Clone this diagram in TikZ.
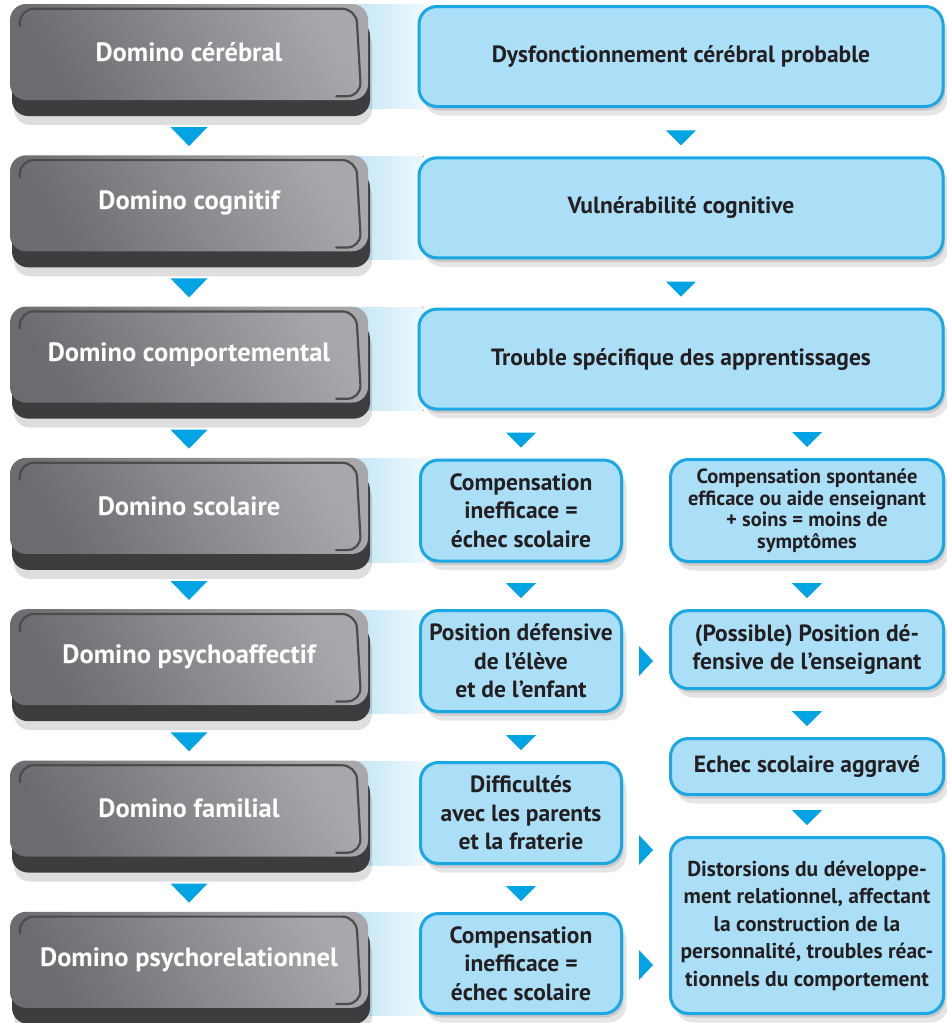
\documentclass[tikz,border=0pt]{standalone}
\usepackage{fontspec}
\setmainfont{PT Sans}
\usetikzlibrary{calc,shadows,backgrounds}

\definecolor{slab}{HTML}{3D3D40}
\definecolor{facedark}{HTML}{6C6C70}
\definecolor{facelight}{HTML}{A8A8AC}
\definecolor{boxfill}{HTML}{ABDFF8}
\definecolor{boxline}{HTML}{1AA7E3}
\definecolor{arrowblue}{HTML}{00A3E4}
\definecolor{inktext}{HTML}{231F20}
\definecolor{bandleft}{HTML}{BCE3F5}
\definecolor{bandright}{HTML}{EEF8FD}

\tikzset{
  domino/.style={rounded corners=16pt, minimum width=358pt, minimum height=96pt, inner sep=0pt,
    general shadow={fill=black, opacity=.13, shadow yshift=-25pt, shadow xshift=4pt},
    general shadow={fill=slab, shadow yshift=-16pt, shadow xshift=2pt},
    bottom color=facedark, top color=facelight, shading angle=-60,
    text=white, font=\fontsize{26.5}{30}\selectfont\bfseries},
  groove/.style={draw=black!70, line width=2.2pt, rounded corners=14pt, line cap=round},
  note/.style={rounded corners=18pt, draw=boxline, line width=3pt, fill=boxfill, inner sep=0pt,
    align=center, text=inktext, font=\fontsize{23.5}{28.5}\selectfont\bfseries,
    general shadow={fill=black, opacity=.10, shadow xshift=5pt, shadow yshift=-9pt},
    general shadow={fill=black, opacity=.12, shadow xshift=2pt, shadow yshift=-4pt}},
  wide/.style={note, minimum width=524pt, minimum height=100pt},
  half/.style={note, minimum width=201pt, minimum height=101pt},
  side/.style={note, minimum width=273pt},
  band/.style={left color=bandleft, right color=bandright},
  fall/.style 2 args={to path={($(\tikztotarget.north)+(0,-18.5)$) ++(-#1/2,-#2/2) -- ++(#1,0) -- ++(-#1/2,#2) -- cycle}},
  bigfall/.style={fall={37}{19}},
  smallfall/.style={fall={30}{15}},
  push/.style={to path={let \p1=(\tikztostart), \p2=(\tikztotarget.west) in ({(\x1+\x2)/2},\y1) ++(-7,-15) -- ++(14,15) -- ++(-14,15) -- cycle}}
}

\begin{document}
\begin{tikzpicture}[x=1pt, y=-1pt]
\useasboundingbox (0,0) rectangle (946,1023);

% dominoes
\node[domino] (cerebral)  at (189,52)    {Domino cérébral};
\node[domino] (cognitif)  at (189,203.3) {Domino cognitif};
\node[domino] (comport)   at (189,354.6) {Domino comportemental};
\node[domino] (scolaire)  at (189,505.9) {Domino scolaire};
\node[domino] (psychoaff) at (189,657.2) {Domino psychoaffectif};
\node[domino] (familial)  at (189,808.5) {Domino familial};
\node[domino] (psychorel) at (189,959.8) {Domino psychorelationnel};

\foreach \d in {cerebral,cognitif,comport,scolaire,psychoaff,familial,psychorel}
  \draw[groove] ($(\d.north west)+(10,22)$) |- ($(\d.north east)+(-12,5)$)
    -- ($(\d.south east)+(-7,-4)$) -- ($(\d.south east)+(-32,-4)$);

% boxes
\node[wide] (dysf)    at (681,56.5)  {Dysfonctionnement cérébral probable};
\node[wide] (vulner)  at (681,207.8) {Vulnérabilité cognitive};
\node[wide] (trouble) at (681,359.1) {Trouble spécifique des apprentissages};

\node[half] (ineff)    at (521,510.5) {Compensation\\inefficace =\\échec scolaire};
\node[side, minimum height=102pt, font=\fontsize{20.5}{21.5}\selectfont\bfseries]
            (spont)    at (807,510.5) {Compensation spontanée\\efficace ou aide enseignant\\+ soins = moins de\\symptômes};
\node[half] (defeleve) at (521,661)   {Position défensive\\de l’élève\\et de l’enfant};
\node[side, minimum height=78pt]
            (defens)   at (807,649.6) {(Possible) Position dé-\\fensive de l’enseignant};
\node[side, minimum height=56pt]
            (aggrave)  at (807,766.5) {Echec scolaire aggravé};
\node[half] (parents)  at (521,813)   {Difficultés\\avec les parents\\et la fraterie};
\node[side, minimum height=176pt, font=\fontsize{21.5}{27.5}\selectfont\bfseries]
            (distors)  at (807,925.5) {Distorsions du développe-\\ment relationnel, affectant\\la construction de la\\personnalité, troubles réac-\\tionnels du comportement};
\node[half, minimum height=100pt]
            (ineffb)   at (521,963.5) {Compensation\\inefficace =\\échec scolaire};

% arrows
\fill[arrowblue]
  (cerebral) to[bigfall] (cognitif)
  (cognitif) to[bigfall] (comport)
  (comport) to[bigfall] (scolaire)
  (scolaire) to[bigfall] (psychoaff)
  (psychoaff) to[bigfall] (familial)
  (familial) to[bigfall] (psychorel);
\fill[arrowblue]
  (dysf) to[smallfall] (vulner)
  (vulner) to[smallfall] (trouble)
  (trouble) to[smallfall] (ineff)
  (trouble) to[smallfall] (spont)
  (ineff) to[smallfall] (defeleve)
  (spont) to[smallfall] (defens)
  (defeleve) to[smallfall] (parents)
  (defens) to[smallfall] (aggrave)
  (parents) to[smallfall] (ineffb)
  (aggrave) to[smallfall] (distors);
\fill[arrowblue]
  (defeleve.east) to[push] (defens)
  ([yshift=-37pt]parents.east) to[push] (distors)
  ([yshift=-1.5pt]ineffb.east) to[push] (distors);

\begin{scope}[on background layer]
  \fill[white] (0,0) rectangle (946,1023);
  \foreach \d/\b in {cerebral/dysf,cognitif/vulner,comport/trouble,scolaire/ineff,psychoaff/defeleve,familial/parents,psychorel/ineffb}
    \fill[band] ($(\d.north east)+(-25,1)$) rectangle ($(\b.south west)+(6,0)$);
\end{scope}
\end{tikzpicture}
\end{document}
